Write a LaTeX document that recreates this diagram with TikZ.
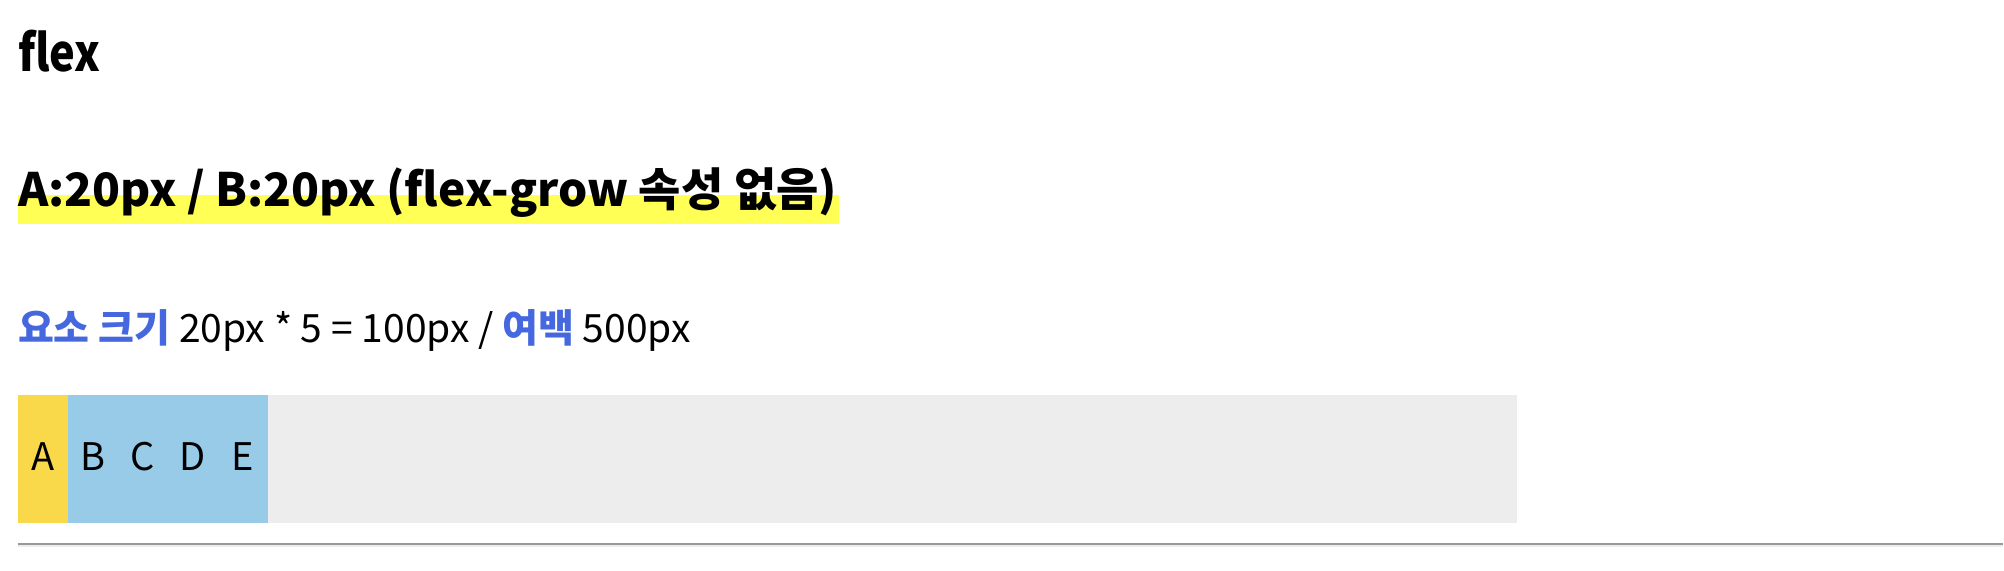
\documentclass[tikz,border=0pt]{standalone}
\usepackage{fontspec}
\setmainfont{Noto Sans CJK KR}
\newfontfamily\titlefont[FakeStretch=0.85]{Noto Sans CJK KR}
\usetikzlibrary{positioning}
\definecolor{kblue}{RGB}{70,104,222}
\definecolor{itemyellow}{RGB}{249,216,74}
\definecolor{itemblue}{RGB}{151,203,232}
\definecolor{trackgray}{RGB}{237,237,237}
\definecolor{marker}{RGB}{255,255,85}
\definecolor{rulegray}{RGB}{153,153,153}

\begin{document}
\begin{tikzpicture}[x=1pt, y=-1pt, node distance=0pt,
  every node/.style={inner sep=0pt, outer sep=0pt},
  item/.style={minimum width=50pt, minimum height=128pt, text height=22pt, text depth=0pt, font=\fontsize{38}{40}\selectfont}]
\useasboundingbox[fill=white] (0,0) rectangle (2004,570);
\node (title) [anchor=base west, font=\titlefont\fontsize{51}{56}\selectfont\bfseries] at (18,71) {flex};
\fill[marker] (18,195) rectangle (839,224);
\node (heading) [anchor=base west, font=\fontsize{46}{50}\selectfont\bfseries] at (18,206) {A:20px / B:20px (flex-grow 속성 없음)};
\node (sizes) [anchor=base west, font=\fontsize{39}{42}\selectfont] at (18,342) {{\color{kblue}\bfseries 요소 크기} 20px * 5 = 100px / {\color{kblue}\bfseries 여백} 500px};
\node (itemA) [item, fill=itemyellow, anchor=north west] at (18,395) {A};
\node (itemB) [item, fill=itemblue, right=of itemA] {B};
\node (itemC) [item, fill=itemblue, right=of itemB] {C};
\node (itemD) [item, fill=itemblue, right=of itemC] {D};
\node (itemE) [item, fill=itemblue, right=of itemD] {E};
\node (track) [fill=trackgray, minimum width=1249pt, minimum height=128pt, right=of itemE] {};
\coordinate (ruleL) at (18,544);
\coordinate (ruleR) at (2003,544);
\draw[rulegray, line width=2pt] (ruleL) -- (ruleR);
\draw[trackgray, line width=1.5pt] ([yshift=-2.2pt]ruleL) -- ([yshift=-2.2pt]ruleR);
\end{tikzpicture}
\end{document}
